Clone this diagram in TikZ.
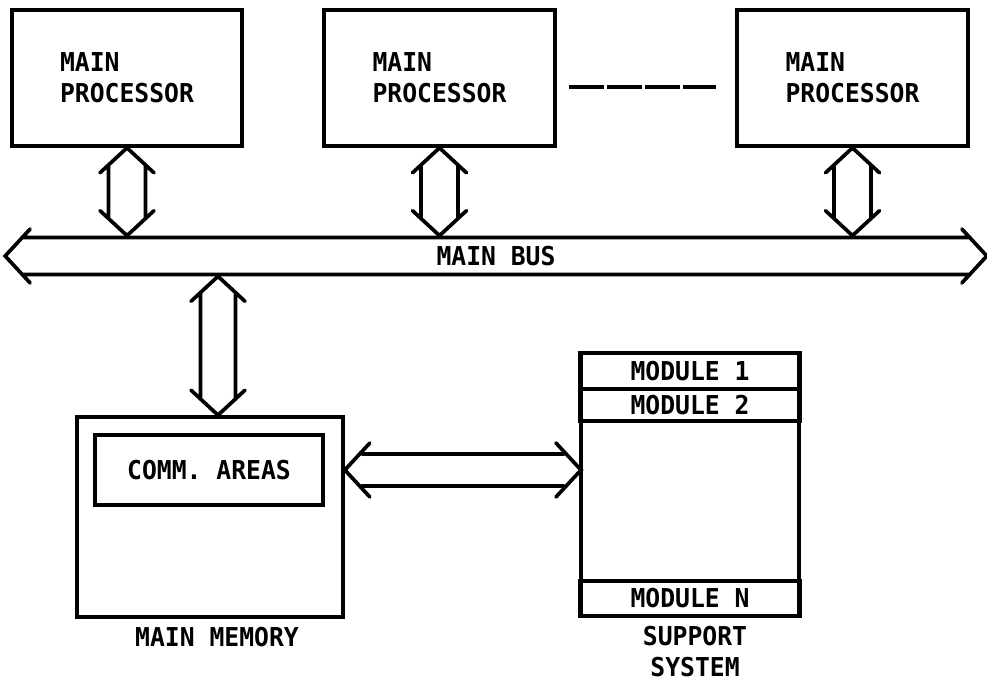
\documentclass[tikz,border=0pt]{standalone}
\usepackage{fontspec}
\setmainfont{DejaVu Sans Mono}[FakeStretch=0.95]
\usetikzlibrary{calc,positioning}

\begin{document}
\begin{tikzpicture}[
  font=\fontsize{14.8}{17.5}\selectfont\bfseries,
  line width=2.1pt,
  box/.style={draw, rectangle, inner sep=0pt, align=center},
  modrow/.style={draw, rectangle, inner sep=0pt, outer sep=0pt, minimum width=4.4cm},
  lbl/.style={inner sep=2pt, align=center},
  hshaft/.store in=\hshaft, hshaft=0.37cm,
  hollow/.style={line join=miter, line cap=round, to path={
    let \p1=(\tikztostart), \p2=(\tikztotarget),
        \n1={atan2(\y2-\y1,\x2-\x1)} in
    ($(\p1)+(\n1:0.5cm)+({\n1+90}:0.54cm)$) -- (\p1) -- ($(\p1)+(\n1:0.5cm)+({\n1-90}:0.54cm)$)
    ($(\p2)-(\n1:0.5cm)+({\n1+90}:0.54cm)$) -- (\p2) -- ($(\p2)-(\n1:0.5cm)+({\n1-90}:0.54cm)$)
    ($(\p1)+(\n1:0.34cm)+({\n1+90}:\hshaft)$) -- ($(\p2)-(\n1:0.34cm)+({\n1+90}:\hshaft)$)
    ($(\p1)+(\n1:0.34cm)+({\n1-90}:\hshaft)$) -- ($(\p2)-(\n1:0.34cm)+({\n1-90}:\hshaft)$)
  }},
]
\useasboundingbox (0,0) rectangle (19.74,13.66);

%% processors
\node[box, minimum width=4.6cm,  minimum height=2.72cm, align=left] (p1) at (2.54,12.10) {MAIN\\PROCESSOR};
\node[box, minimum width=4.62cm, minimum height=2.72cm, align=left] (p2) at (8.79,12.10) {MAIN\\PROCESSOR};
\node[box, minimum width=4.62cm, minimum height=2.72cm, align=left] (p3) at (17.05,12.10) {MAIN\\PROCESSOR};
\draw[dash pattern=on 0.7cm off 0.06cm]
  ([xshift=0.24cm,yshift=-0.18cm]p2.east) -- ([xshift=-0.38cm,yshift=-0.18cm]p3.west);

%% main bus
\node[inner sep=0pt, minimum width=19.56cm, minimum height=0.74cm] (bus) at (9.92,8.54) {MAIN BUS};
\draw[hollow] (bus.west) to (bus.east);
\foreach \pr in {p1,p2,p3} {
  \draw[hollow] (\pr.south) to (\pr.south |- bus.north);
}

%% main memory
\node[box, minimum width=5.32cm, minimum height=4.0cm] (mem) at (4.20,3.32) {};
\node[box, minimum width=4.56cm, minimum height=1.4cm] (comm) at (4.18,4.26) {COMM. AREAS};
\node[lbl, below=0.06cm of mem, xshift=0.14cm] (memlbl) {MAIN MEMORY};
\coordinate (mtop) at ([xshift=0.16cm]mem.north);
\draw[hollow, hshaft=0.35cm] (bus.south -| mtop) to (mtop);

%% support system
\node[box, outer sep=0pt, minimum width=4.36cm, minimum height=5.26cm] (sup) at (13.8,3.97) {};
\node[modrow, minimum height=0.72cm, anchor=north] (m1) at (sup.north) {MODULE 1};
\node[modrow, minimum height=0.64cm, anchor=north] (m2) at (m1.south) {MODULE 2};
\node[modrow, minimum height=0.70cm, anchor=south] (mn) at (sup.south) {MODULE N};
\node[lbl, below=0.1cm of sup, xshift=0.1cm] (suplbl) {SUPPORT\\SYSTEM};
\draw[hollow, hshaft=0.32cm] (mem.east |- comm) to (sup.west |- comm);

\end{tikzpicture}
\end{document}
